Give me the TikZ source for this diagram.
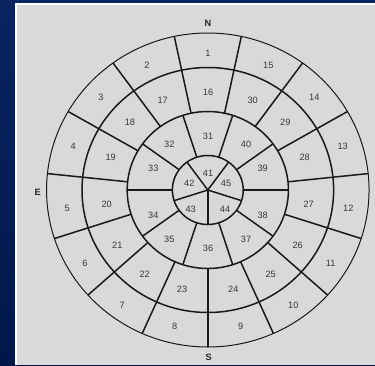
\documentclass[tikz,border=0pt]{standalone}
\usepackage{fontspec}
\setmainfont{Liberation Sans}
\definecolor{navytop}{HTML}{0A2462}
\definecolor{navybot}{HTML}{001848}
\definecolor{panel}{HTML}{D9D9D9}
\definecolor{txt}{HTML}{383838}
\begin{document}
\begin{tikzpicture}[x=1pt,y=1pt,
  lab/.style={text=txt, font=\fontsize{9.2}{10}\selectfont, inner sep=0pt},
  card/.style={text=black!85, font=\fontsize{9.2}{10}\selectfont\bfseries, inner sep=0pt},
  outerring/.style={line width=1.0pt, black!90},
  ring/.style={line width=1.5pt, black!90},
  spoke/.style={line width=1.5pt, black!90}]
\useasboundingbox (0,0) rectangle (375,-365);
\shade[top color=navytop, bottom color=navybot] (0,0) rectangle (375,-365);
\fill[white] (15,-3) rectangle (375,-365);
\fill[panel] (17,-5) rectangle (375,-365);
\begin{scope}[shift={(207.8,-190)}, xscale=1.027]
  \draw[outerring] (0,0) circle (157);
  \draw[ring] (0,0) circle (122.5);
  \draw[ring] (0,0) circle (78.5);
  \draw[ring] (0,0) circle (34.5);
  \foreach \a in {78,102,...,414} \draw[spoke] (\a:78.5) -- (\a:157);
  \foreach \a in {0,36,...,324} \draw[spoke] (\a:34.5) -- (\a:78.5);
  \foreach \a in {54,126,...,342} \draw[spoke] (0,0) -- (\a:34.5);
\end{scope}
% cardinal labels
\node[card] (N) at (208,-23) {N};
\node[card] (E) at (37.7,-192) {E};
\node[card] (S) at (208.7,-357) {S};
% outer ring
\foreach \n/\x/\y in {1/208/53.3, 2/147/65.7, 3/101/97.7, 4/73.3/146.7, 5/67.3/208.7,
  6/85/263.3, 7/122.3/305, 8/174.7/326.7, 9/240.7/326.7, 10/293.3/305,
  11/330.7/263.3, 12/348.3/208.7, 13/342.7/146.7, 14/314.3/97.7, 15/268.3/65.7,
  16/208/92.7, 17/162.7/100, 18/130/122.7, 19/110.7/157.7, 20/106.7/204.3,
  21/117.3/245.7, 22/144.7/274.3, 23/182/289.3, 24/233.3/289.3, 25/270.7/274.3,
  26/297.7/245.7, 27/308.7/204.3, 28/304.7/157.7, 29/285.3/122.7, 30/252.7/100,
  31/208/136.7, 32/169.3/144.3, 33/153.3/168.3, 34/153.3/215.7, 35/169.3/239.3,
  36/208/248.3, 37/246/239.3, 38/262.7/215.7, 39/262.7/168.3, 40/246/144.3,
  41/208/173.3, 42/189.3/183.3, 43/190.7/209.3, 44/225/209.3, 45/226/183.3}
  \node[lab] (z\n) at (\x,-\y) {\n};
\end{tikzpicture}
\end{document}
